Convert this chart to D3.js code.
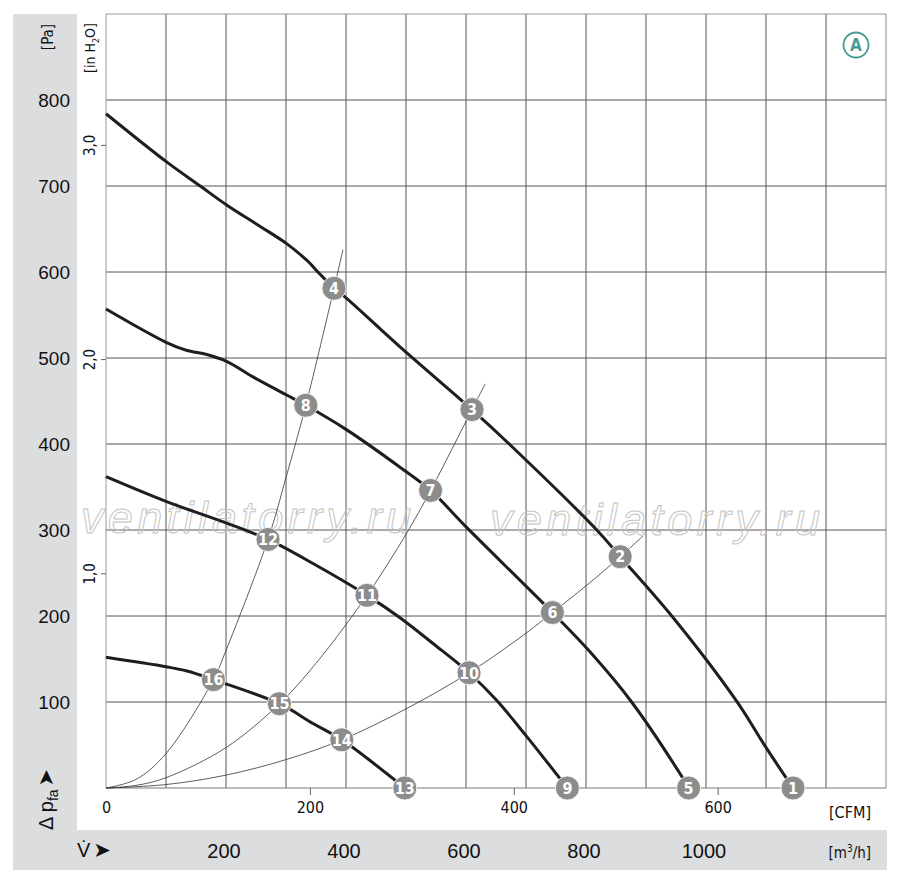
<!DOCTYPE html>
<html><head><meta charset="utf-8">
<script src="https://cdn.jsdelivr.net/npm/d3@7/dist/d3.min.js"></script>
<style>
body{margin:0;background:#fff}
text{font-family:"Liberation Sans",Arial,sans-serif;fill:#111}
.narrow{font-family:"Liberation Sans Narrow","Arial Narrow","DejaVu Sans Condensed",sans-serif}
</style>
</head><body><svg id="c" width="900" height="880"></svg>
<script>
// ---------- data (volume flow in m³/h, pressure in Pa) ----------
const flowTickLabels = [200, 400, 600, 800, 1000];          // m³/h band
const cfmTickLabels = [0, 200, 400, 600];                   // CFM
const paTickLabels = [100, 200, 300, 400, 500, 600, 700, 800];
const inH2OTicks = [1, 2, 3];
const inH2OTickLabels = ["1,0", "2,0", "3,0"];
const gridFlow = [100,200,300,400,500,600,700,800,900,1000,1100,1200,1300];
const gridPa = [100,200,300,400,500,600,700,800,900];

// fan curves [m³/h, Pa]
const curveA = [[0,784],[101,728],[157,700],[201,678],[257,653],[301,633],[334,614],[356,598],[380,581],[400,570],[490,513],[610,440],[672,400],[818,300],[857,269],[943,200],[1051,101],[1101,46],[1145,0]];
const curveB = [[0,557],[101,518],[134,509],[168,504],[201,496],[245,478],[301,457],[333,445],[400,417],[490,373],[541,346],[601,303],[744,204],[807,158],[876,100],[960,13],[971,0]];
const curveC = [[0,362],[101,333],[201,308],[270,289],[345,261],[435,224],[490,198],[545,168],[605,134],[651,102],[701,60],[769,0]];
const curveD = [[0,152],[100,141],[135,136],[179,126],[289,98],[345,75],[393,56],[498,0]];

// system (resistance) curves [m³/h, Pa]
const sys1 = [[0,0],[50,10],[100,40],[179,126],[200,160],[270,289],[300,361],[333,445],[380,581],[395,626]];
const sys2 = [[0,0],[50,3],[100,12],[200,47],[289,98],[350,145],[435,224],[500,295],[541,346],[610,440],[632,470]];
const sys3 = [[0,0],[100,4],[200,15],[300,33],[393,56],[500,92],[605,134],[700,180],[744,204],[800,235],[857,269],[895,293]];

// operating point markers
const markerIds = [1,2,3,4,5,6,7,8,9,10,11,12,13,14,15,16];
const markerFlow = [1145,857,610,380,971,744,541,333,769,605,435,270,498,393,289,179];
const markerPa   = [0,269,440,581,0,204,346,445,0,134,224,289,0,56,98,126];

// ---------- drawing ----------
const svg = d3.select("#c");
const x = d3.scaleLinear().domain([0,1300]).range([106,886]);
const y = d3.scaleLinear().domain([0,900]).range([788,14]);
const CFM = 1.69901;
const xc = d3.scaleLinear().domain([0,1300/CFM]).range([106,886]);
const yi = d3.scaleLinear().domain([0,900/249.089]).range([788,14]);

// grey bands
svg.append("rect").attr("x",13).attr("y",14).attr("width",64).attr("height",856).attr("fill","#dcdddf");
svg.append("rect").attr("x",13).attr("y",830).attr("width",874).attr("height",40).attr("fill","#dcdddf");

// grid
const g = svg.append("g");
g.selectAll(".vg").data(gridFlow).join("line")
  .attr("x1",d=>x(d)).attr("x2",d=>x(d)).attr("y1",y(0)).attr("y2",y(900))
  .attr("stroke",d=>d===1300?"#888":"#555").attr("stroke-width",1);
g.selectAll(".hg").data(gridPa).join("line")
  .attr("x1",x(0)).attr("x2",x(1300)).attr("y1",d=>y(d)).attr("y2",d=>y(d))
  .attr("stroke",d=>d===900?"#999":"#555").attr("stroke-width",1);
g.append("line").attr("x1",x(0)).attr("x2",x(0)).attr("y1",y(0)).attr("y2",y(900)).attr("stroke","#999");
g.append("line").attr("x1",x(0)).attr("x2",x(1300)).attr("y1",y(0)).attr("y2",y(0)).attr("stroke","#777");

// watermark
[[81,533],[490,535]].forEach(p=>{
  svg.append("text").attr("x",p[0]).attr("y",p[1]).attr("font-size",45).attr("font-style","italic")
    .attr("textLength",330).attr("lengthAdjust","spacing")
    .style("fill","none").attr("stroke","#c4c4c4").attr("stroke-width",1)
    .text("ventilatorry.ru");
});

// Pa axis
const pa = svg.append("g").attr("transform","translate(72,0)")
  .call(d3.axisLeft(y).tickValues(paTickLabels).tickSize(0).tickPadding(2));
pa.select(".domain").remove();
pa.selectAll("text").attr("font-size",19).style("font-family",'"Liberation Sans",Arial,sans-serif').attr("fill","#111");

// in H2O axis
const ih = svg.append("g");
ih.selectAll("line").data(inH2OTicks).join("line")
  .attr("x1",101).attr("x2",106).attr("y1",d=>yi(d)).attr("y2",d=>yi(d)).attr("stroke","#666");
ih.selectAll("text").data(inH2OTicks).join("text")
  .attr("class","narrow").attr("font-size",15).attr("text-anchor","middle")
  .attr("transform",d=>`translate(95,${yi(d)}) rotate(-90)`)
  .text((d,i)=>inH2OTickLabels[i]);

// CFM axis
const cf = svg.append("g").attr("transform","translate(0,788)")
  .call(d3.axisBottom(xc).tickValues(cfmTickLabels).tickSize(7).tickPadding(7));
cf.select(".domain").remove();
cf.selectAll("line").attr("stroke",(d)=>d===0?"none":"#666");
cf.selectAll("text").attr("font-size",16).attr("class","narrow").attr("fill","#111");
svg.append("text").attr("class","narrow").attr("x",871).attr("y",818).attr("text-anchor","end").attr("font-size",16).text("[CFM]");

// m³/h band
svg.selectAll(".fl").data(flowTickLabels).join("text")
  .attr("x",d=>x(d)-2).attr("y",858).attr("text-anchor","middle").attr("font-size",20).text(d=>d);
const mh = svg.append("text").attr("class","narrow").attr("x",871).attr("y",858).attr("text-anchor","end").attr("font-size",15);
mh.append("tspan").text("[m");
mh.append("tspan").attr("font-size",10).attr("dy",-6).text("3");
mh.append("tspan").attr("dy",6).text("/h]");

// V-dot arrow
const vd = svg.append("text").attr("x",77).attr("y",857).attr("font-size",20);
vd.append("tspan").text("V\u0307");
vd.append("tspan").attr("dx",3).attr("font-size",21).style("font-family","DejaVu Sans").text("➤");

// left labels
svg.append("text").attr("class","narrow").attr("font-size",15).attr("text-anchor","middle")
  .attr("transform","translate(53,37) rotate(-90)").text("[Pa]");
const inl = svg.append("text").attr("class","narrow").attr("font-size",14).attr("text-anchor","middle")
  .attr("transform","translate(95,48) rotate(-90)");
inl.append("tspan").text("[in H");
inl.append("tspan").attr("font-size",9).attr("dy",4).text("2");
inl.append("tspan").attr("dy",-4).text("O]");
const dp = svg.append("text").attr("font-size",20).attr("transform","translate(53,830) rotate(-90)");
dp.append("tspan").text("Δ p");
dp.append("tspan").attr("font-size",14).attr("dy",5).text("fa");
dp.append("tspan").attr("dy",-5).attr("dx",3).attr("font-size",21).style("font-family","DejaVu Sans").text("➤");

// curves
const line = d3.line().x(d=>x(d[0])).y(d=>y(d[1])).curve(d3.curveCatmullRom.alpha(0.5));
const cg = svg.append("g").attr("fill","none");
[sys1,sys2,sys3].forEach(s=>cg.append("path").attr("d",line(s)).attr("stroke","#333").attr("stroke-width",0.8));
[curveA,curveB,curveC,curveD].forEach(c=>cg.append("path").attr("d",line(c)).attr("stroke","#1e1e1e").attr("stroke-width",3));

// markers
const mg = svg.append("g");
const mk = mg.selectAll("g").data(markerIds).join("g")
  .attr("transform",(d,i)=>`translate(${x(markerFlow[i])},${y(markerPa[i])})`);
mk.append("circle").attr("r",12).attr("fill","#8c8c8c").attr("stroke","#fff").attr("stroke-width",0.8);
mk.append("text").attr("class","narrow").attr("text-anchor","middle").attr("dy","0.36em")
  .attr("font-size",16).attr("font-weight","bold").style("fill","#fff").text(d=>d);

// A badge
svg.append("circle").attr("cx",856).attr("cy",45).attr("r",12.5).attr("fill","none").attr("stroke","#4a9a94").attr("stroke-width",1.8);
svg.append("text").attr("x",856).attr("y",51).attr("text-anchor","middle").attr("class","narrow")
  .attr("font-size",17).attr("font-weight","bold").style("fill","#4a9a94").text("A");
</script></body></html>
